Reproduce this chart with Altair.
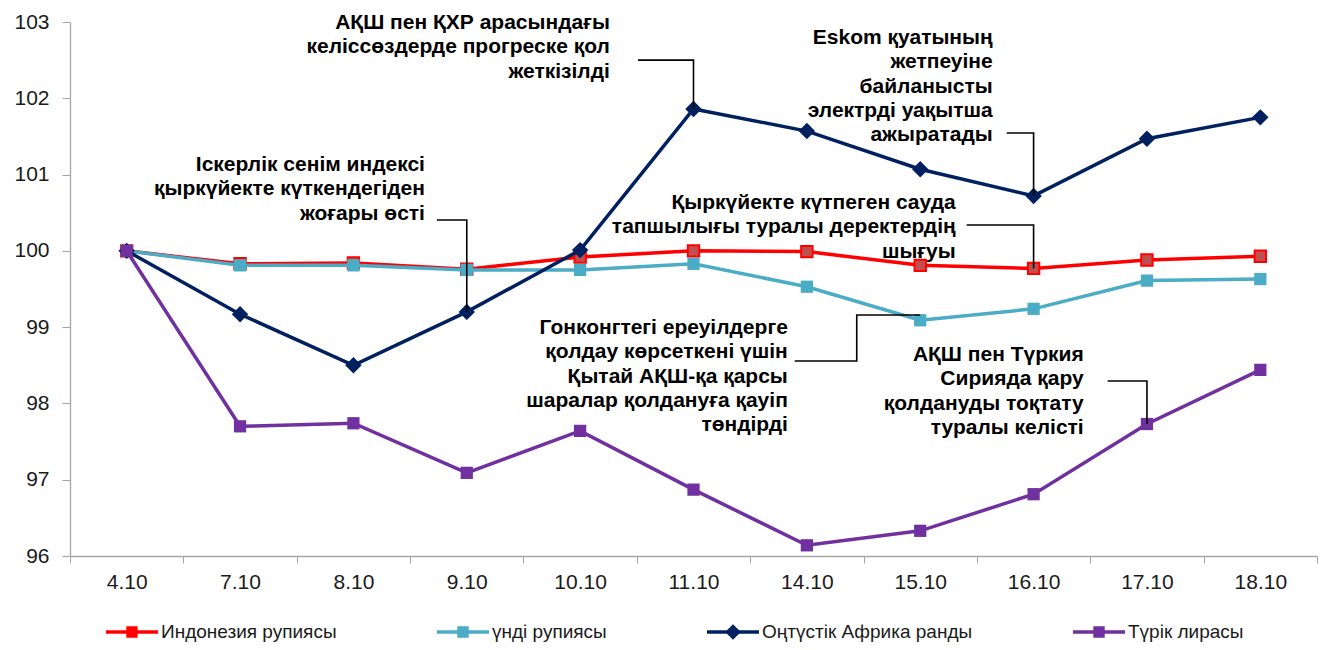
import altair as alt
import pandas as pd

# ---------------- data ----------------
dates = ["4.10", "7.10", "8.10", "9.10", "10.10", "11.10", "14.10", "15.10", "16.10", "17.10", "18.10"]
series_names = ["Индонезия рупиясы", "үнді рупиясы", "Оңтүстік Африка ранды", "Түрік лирасы"]

idr = [100.0, 99.83, 99.84, 99.76, 99.92, 100.0, 99.99, 99.81, 99.77, 99.88, 99.93]
inr = [100.0, 99.81, 99.81, 99.75, 99.75, 99.83, 99.53, 99.09, 99.24, 99.61, 99.63]
zar = [100.0, 99.17, 98.50, 99.20, 100.01, 101.86, 101.57, 101.07, 100.72, 101.47, 101.75]
tryl = [100.0, 97.70, 97.74, 97.09, 97.64, 96.87, 96.14, 96.33, 96.81, 97.73, 98.44]
values = [idr, inr, zar, tryl]

# annotations: text lines, right edge (category index), first-line centre (value)
ann_lines = [
    ["АҚШ пен ҚХР арасындағы", "келіссөздерде прогреске қол", "жеткізілді"],
    ["Eskom қуатының", "жетпеуіне", "байланысты", "электрді уақытша", "ажыратады"],
    ["Іскерлік сенім индексі", "қыркүйекте күткендегіден", "жоғары өсті"],
    ["Қыркүйекте күтпеген сауда", "тапшылығы туралы деректердің", "шығуы"],
    ["Гонконгтегі ереуілдерге", "қолдау көрсеткені үшін", "Қытай АҚШ-қа қарсы",
     "шаралар қолдануға қауіп", "төндірді"],
    ["АҚШ пен Түркия", "Сирияда қару", "қолдануды тоқтату", "туралы келісті"],
]
ann_x = [4.262, 7.639, 2.631, 7.313, 5.832, 8.442]
ann_y = [102.987, 102.790, 101.126, 100.627, 98.989, 98.635]

# leader lines (polylines in data units)
leaders = [
    [(4.51, 102.50), (5, 102.50), (5, 101.86)],
    [(7.763, 101.545), (8, 101.545), (8, 100.72)],
    [(2.736, 100.405), (3, 100.405), (3, 99.20)],
    [(7.41, 100.339), (8, 100.339), (8, 99.77)],
    [(5.893, 98.556), (6.44, 98.556), (6.44, 99.159), (7, 99.159)],
    [(8.653, 98.294), (9, 98.294), (9, 97.73)],
]

# ---------------- styles ----------------
line_colors = ["#FF0000", "#4BACC6", "#002060", "#7030A0"]
marker_fill = ["#C0504D", "#4BACC6", "#002060", "#7030A0"]
marker_shape = ["square", "square", "diamond", "square"]
marker_size = [130, 150, 270, 150]
FONT = "Liberation Sans"

sq_path = ("M-1,-0.065L1,-0.065L1,0.065L-1,0.065Z "
           "M-0.22,-0.22L0.22,-0.22L0.22,0.22L-0.22,0.22Z")
di_path = ("M-1,-0.065L1,-0.065L1,0.065L-1,0.065Z "
           "M0,-0.3L0.3,0L0,0.3L-0.3,0Z")
legend_paths = [sq_path, sq_path, di_path, sq_path]

# ---------------- tables ----------------
rows = []
for s, vals in zip(series_names, values):
    for i, v in enumerate(vals):
        rows.append({"series": s, "x": i, "y": v})
df = pd.DataFrame(rows)

ann_df = pd.DataFrame({"x": ann_x, "y": ann_y, "text": ann_lines})

lead_rows = []
for k, poly in enumerate(leaders):
    for o, (px, py) in enumerate(poly):
        lead_rows.append({"id": k, "o": o, "x": px, "y": py})
lead_df = pd.DataFrame(lead_rows)

# ---------------- axes ----------------
tick_vals = [i * 0.5 - 0.5 for i in range(23)]
date_arr = "[" + ",".join("'" + d + "'" for d in dates) + "]"

x_axis = alt.Axis(
    values=tick_vals,
    labelExpr=f"datum.value % 1 === 0 ? {date_arr}[datum.value] : ''",
    tickOpacity={"condition": {"test": "datum.value % 1 !== 0", "value": 1}, "value": 0},
    title=None, grid=False, labelOverlap=False, labelFlush=False,
    tickSize=7, tickColor="#A6A6A6", domainColor="#A6A6A6", domainWidth=1.3,
    labelFont=FONT, labelFontSize=21, labelColor="#1a1a1a", labelPadding=8,
)
y_axis = alt.Axis(
    values=list(range(96, 104)), title=None, grid=False,
    tickSize=8, tickColor="#A6A6A6", domainColor="#A6A6A6", domainWidth=1.3,
    labelFont=FONT, labelFontSize=21, labelColor="#1a1a1a", labelPadding=13,
)

X = alt.X("x:Q", scale=alt.Scale(domain=[-0.5, 10.5], nice=False, zero=False), axis=x_axis)
Y = alt.Y("y:Q", scale=alt.Scale(domain=[96, 103], nice=False, zero=False), axis=y_axis)

layers = []
for s, lc, mf, ms, msz in zip(series_names, line_colors, marker_fill, marker_shape, marker_size):
    base = alt.Chart(df).transform_filter(alt.datum.series == s)
    layers.append(base.mark_line(color=lc, strokeWidth=3.5).encode(x=X, y=Y, order="x:Q"))
    if s == series_names[0]:
        pt = base.mark_point(filled=True, shape=ms, size=msz, fill=mf, stroke=lc,
                             strokeWidth=2, opacity=1)
    else:
        pt = base.mark_point(filled=True, shape=ms, size=msz, fill=mf, opacity=1)
    layers.append(pt.encode(x=X, y=Y))

# leader lines
layers.append(
    alt.Chart(lead_df).mark_line(color="black", strokeWidth=1.6).encode(
        x=X, y=Y, detail="id:N", order="o:Q")
)
# annotation texts
layers.append(
    alt.Chart(ann_df).mark_text(align="right", baseline="middle", font=FONT,
                                fontSize=21, fontWeight="bold", lineHeight=24.3,
                                color="black").encode(x=X, y=Y, text="text")
)

# legend-only layer
leg = alt.Legend(orient="none", legendX=36, legendY=584, direction="horizontal",
                 title=None, labelFont=FONT, labelFontSize=19, labelColor="#1a1a1a",
                 labelLimit=0,
                 symbolSize=2704, symbolStrokeWidth=0, symbolOpacity=1,
                 columnPadding=100, labelOffset=3)
layers.append(
    alt.Chart(df).transform_filter("false").mark_point(filled=True, opacity=1).encode(
        color=alt.Color("series:N", scale=alt.Scale(domain=series_names, range=line_colors), legend=leg),
        shape=alt.Shape("series:N", scale=alt.Scale(domain=series_names, range=legend_paths), legend=leg),
    )
)

chart = alt.layer(*layers).properties(
    width=1247, height=534,
    autosize=alt.AutoSizeParams(type="none"),
    padding={"left": 62, "top": 14, "right": 1, "bottom": 86},
    background="white",
).configure_view(stroke=None)

chart.save("out.html", embed_options={"renderer": "svg", "actions": False})
